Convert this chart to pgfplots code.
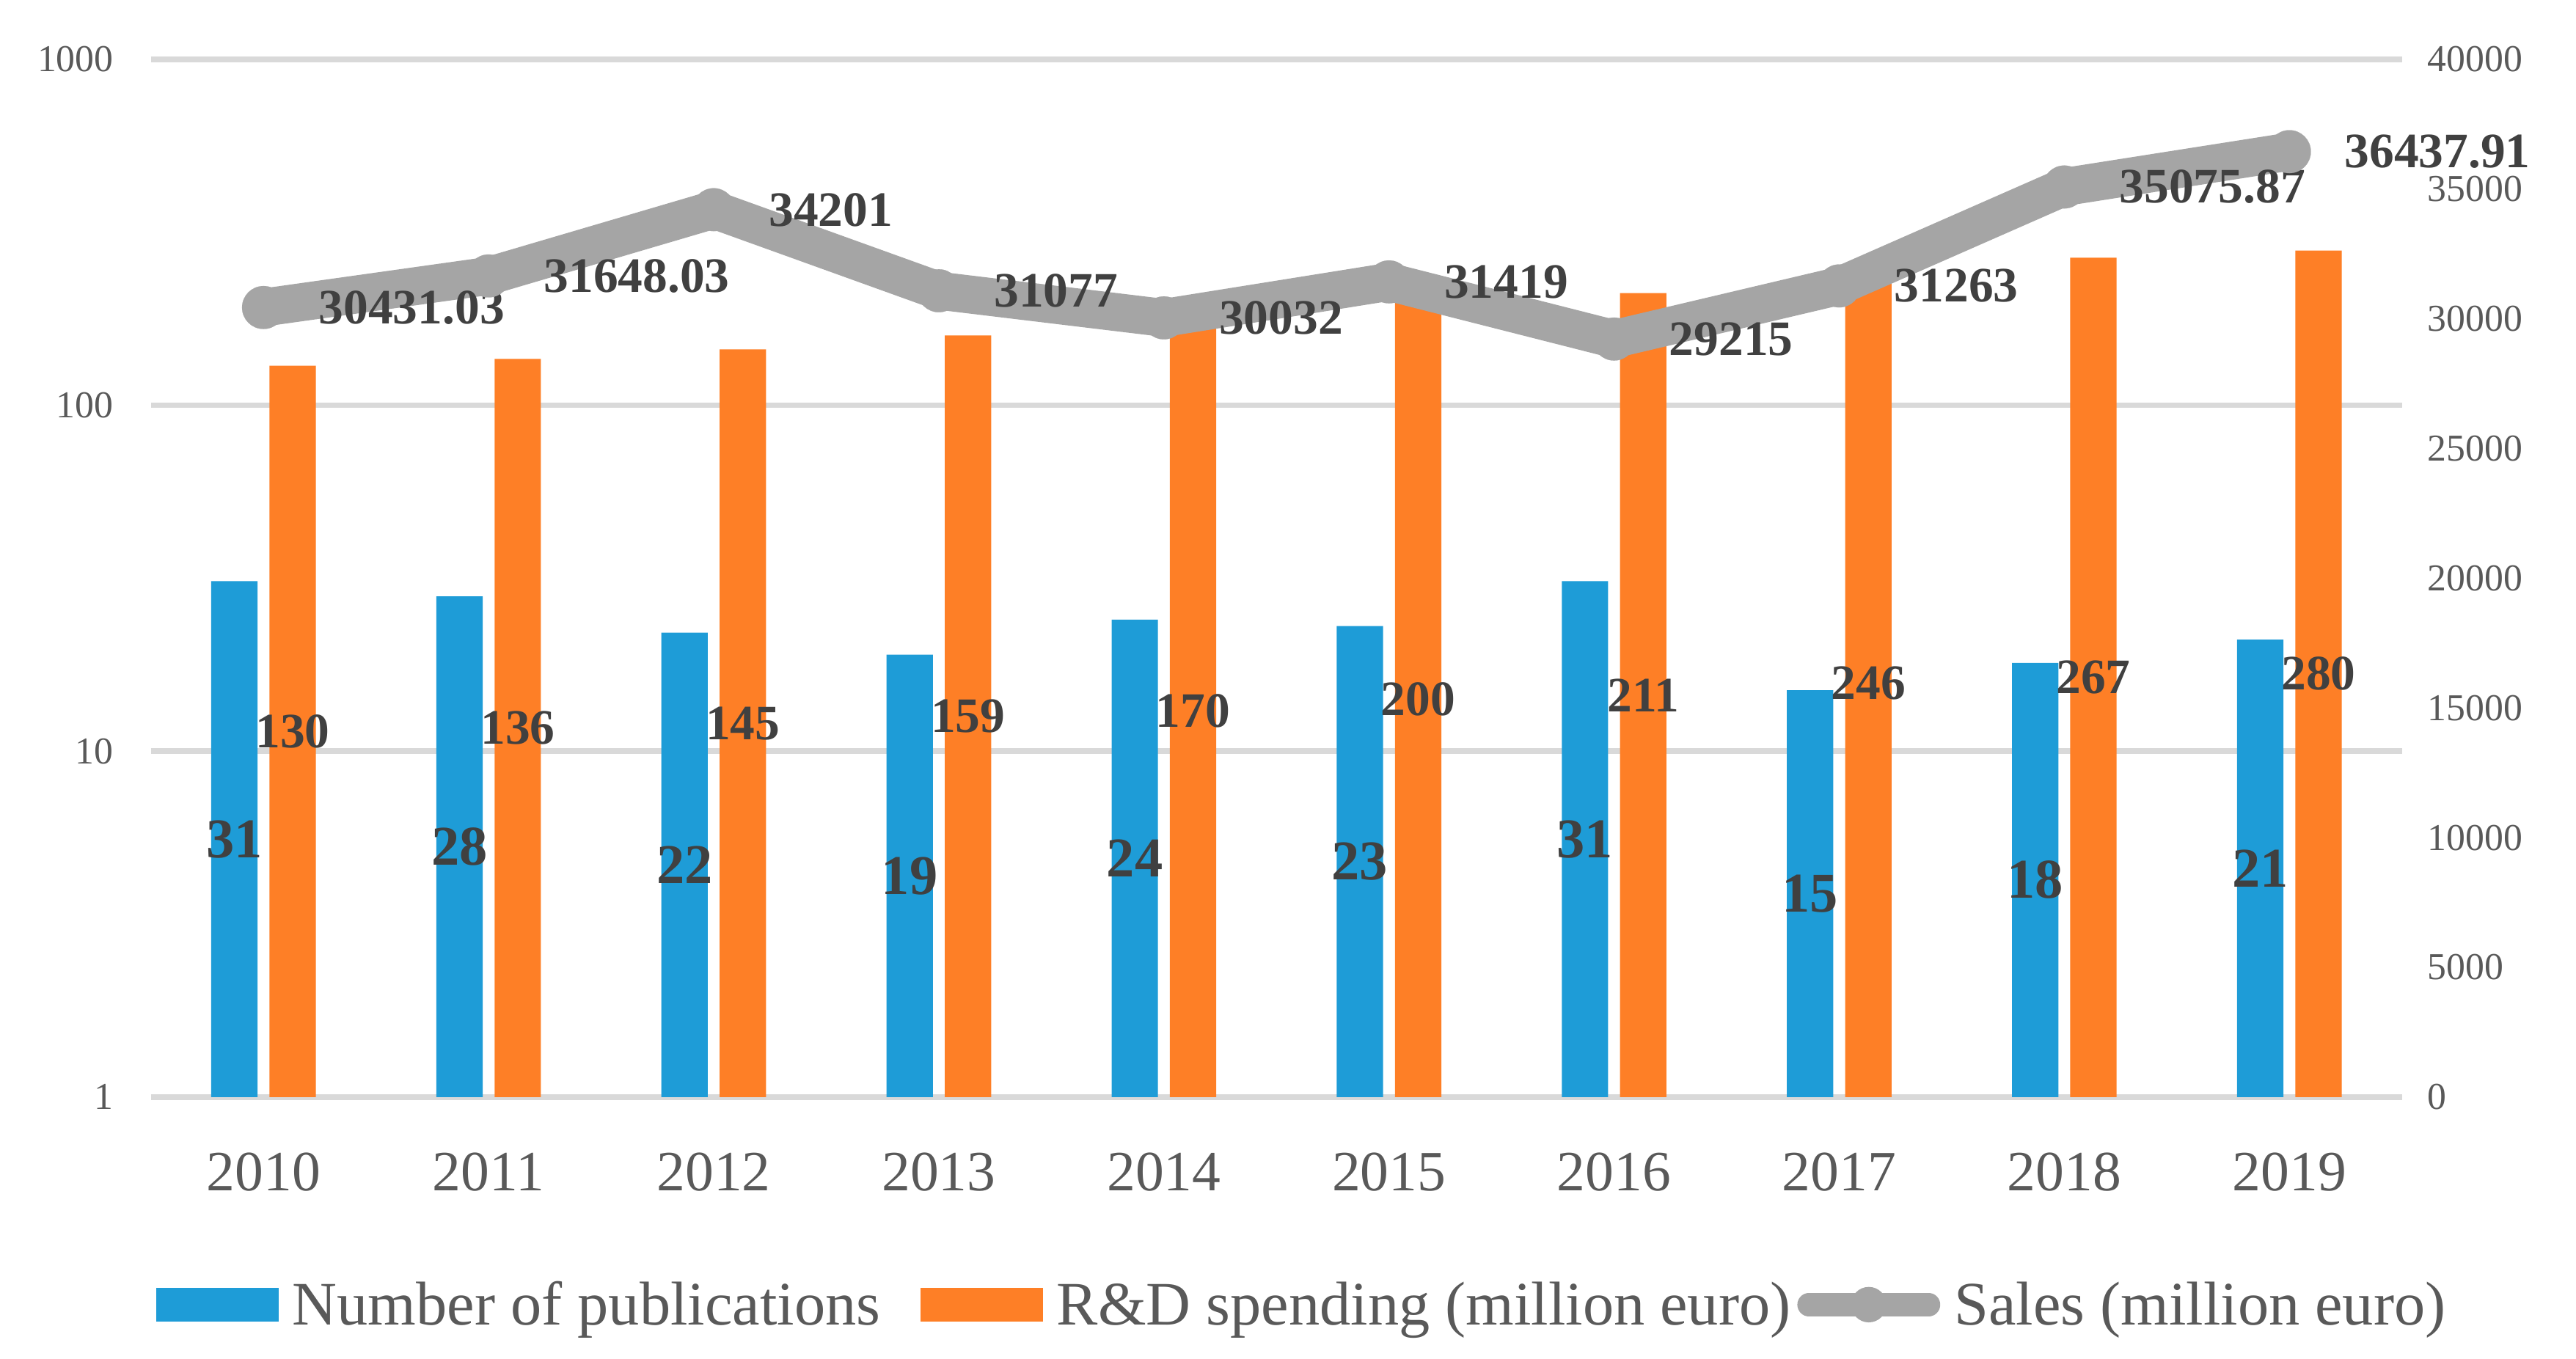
\documentclass[border=0pt]{standalone}
\usepackage{fontspec}
\setmainfont{Liberation Serif}
\usepackage{pgfplots}
\usepackage{pgfplotstable}
\pgfplotsset{compat=1.18}

\definecolor{pubblue}{HTML}{1E9CD7}
\definecolor{rdorange}{HTML}{FE7F26}
\definecolor{salesgray}{HTML}{A5A5A5}
\definecolor{gridgray}{HTML}{D9D9D9}
\definecolor{ticktext}{HTML}{595959}
\definecolor{labeltext}{HTML}{404040}

\pgfplotstableread{
x pub rd sales
0 31 130 30431.03
1 28 136 31648.03
2 22 145 34201
3 19 159 31077
4 24 170 30032
5 23 200 31419
6 31 211 29215
7 15 246 31263
8 18 267 35075.87
9 21 280 36437.91
}\datatable

\begin{document}
\begin{tikzpicture}
\begin{axis}[
  name=main,
  scale only axis, width=1364bp, height=629bp,
  xmin=-0.5, xmax=9.5,
  ymode=log, log basis y=10, ymin=1, ymax=1000,
  ytick={1,10,100,1000}, yticklabels={1,10,100,1000},
  xtick={0,1,2,3,4,5,6,7,8,9},
  xticklabels={2010,2011,2012,2013,2014,2015,2016,2017,2018,2019},
  axis line style={draw=none},
  major tick length=0pt,
  ymajorgrids, xmajorgrids=false,
  major grid style={draw=gridgray, line width=3.4bp},
  clip=false,
  ybar,
  yticklabel style={anchor=east, inner sep=0pt, outer sep=0pt, xshift=-22.8bp,
    font=\fontsize{23bp}{26bp}\selectfont, text=ticktext},
  xticklabel style={anchor=center, inner sep=0pt, outer sep=0pt, yshift=-45.6bp,
    font=\fontsize{34.5bp}{40bp}\selectfont, text=ticktext},
]
\addplot[fill=pubblue, draw=none, bar width=28.1bp, bar shift=-17.65bp,
  nodes near coords={\pgfplotspointmeta}, point meta=explicit symbolic,
  visualization depends on={rawy \as \pv},
  every node near coord/.append style={anchor=center, inner sep=0pt, outer sep=0pt,
    yshift={-45.699*ln(\pv)},
    font=\bfseries\fontsize{34bp}{40bp}\selectfont, text=labeltext}
] table[x=x, y=pub, meta=pub] {\datatable};
\addplot[fill=rdorange, draw=none, bar width=28.1bp, bar shift=17.65bp,
  nodes near coords={\pgfplotspointmeta}, point meta=explicit symbolic,
  visualization depends on={rawy \as \rv},
  every node near coord/.append style={anchor=center, inner sep=0pt, outer sep=0pt,
    yshift={-45.699*ln(\rv)},
    font=\bfseries\fontsize{30bp}{36bp}\selectfont, text=labeltext}
] table[x=x, y=rd, meta=rd] {\datatable};
\end{axis}

\begin{axis}[
  scale only axis, width=1364bp, height=629bp,
  xmin=-0.5, xmax=9.5, ymin=0, ymax=40000,
  axis x line=none, axis y line*=right,
  axis line style={draw=none},
  major tick length=0pt,
  scaled y ticks=false,
  ytick={0,5000,10000,15000,20000,25000,30000,35000,40000},
  yticklabels={0,5000,10000,15000,20000,25000,30000,35000,40000},
  yticklabel style={anchor=west, inner sep=0pt, outer sep=0pt, xshift=15.5bp,
    font=\fontsize{23bp}{26bp}\selectfont, text=ticktext},
  clip=false,
  legend columns=-1,
  legend cell align=left,
  legend style={at={(axis description cs:0.0024,-0.2)}, anchor=west,
    draw=none, fill=none, inner sep=0pt, outer sep=0pt,
    font=\fontsize{37.5bp}{44bp}\selectfont,
    nodes={inner sep=0pt, outer sep=0pt, text=ticktext},
    /tikz/every odd column/.append style={column sep=8.5bp},
    /tikz/column 2/.append style={column sep=24.5bp},
    /tikz/column 3/.append style={column sep=7bp},
    /tikz/column 4/.append style={column sep=4bp},
    /tikz/column 5/.append style={column sep=-4bp}},
]
\addlegendimage{legend image code/.code={\path[fill=pubblue, draw=none] (0bp,-10.35bp) rectangle (74bp,10.35bp);}}
\addlegendentry{Number of publications}
\addlegendimage{legend image code/.code={\path[fill=rdorange, draw=none] (0bp,-10.35bp) rectangle (74bp,10.35bp);}}
\addlegendentry{R\&D spending (million euro)}
\addplot[color=salesgray, line width=23bp, line join=round, line cap=round,
  mark=*, mark size=13bp, mark options={line width=0.1pt, draw=salesgray, fill=salesgray, solid},
  nodes near coords={\pgfplotspointmeta}, point meta=explicit symbolic,
  every node near coord/.append style={anchor=west, xshift=33.5bp, inner sep=0pt, outer sep=0pt,
    font=\bfseries\fontsize{30bp}{36bp}\selectfont, text=labeltext},
  legend image code/.code={\path[draw=salesgray, line width=14bp, line cap=round] (7bp,0bp) -- (79.6bp,0bp);
    \path[fill=salesgray, draw=none, line width=0pt] (43.3bp,0bp) circle[radius=10.75bp];}
] table[x=x, y=sales, meta=sales] {\datatable};
\addlegendentry{Sales (million euro)}
\end{axis}

\pgfresetboundingbox
\path[use as bounding box] ([shift={(-91.5bp,-158.6bp)}]main.south west) rectangle ([shift={(105.5bp,35.9bp)}]main.north east);
\end{tikzpicture}
\end{document}
